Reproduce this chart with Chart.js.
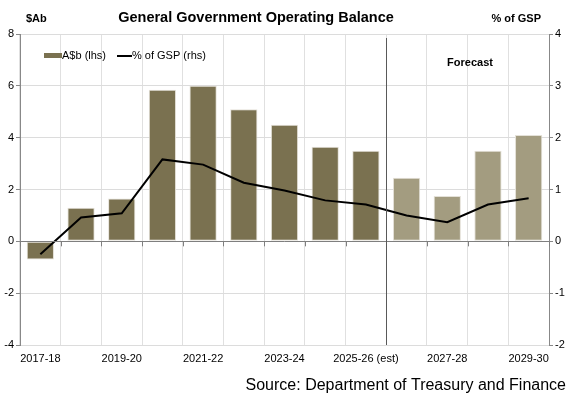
<!DOCTYPE html>
<html>
<head>
<meta charset="utf-8">
<script src="https://cdn.jsdelivr.net/npm/chart.js@4"></script>
<style>
  html, body { margin: 0; padding: 0; background: #fff; }
  #wrap { width: 569px; height: 396px; }
</style>
</head>
<body>
<div id="wrap"><canvas id="chart" width="569" height="396"></canvas></div>
<script>
const years = ['2017-18', '2018-19', '2019-20', '2020-21', '2021-22', '2022-23', '2023-24',
  '2024-25', '2025-26 (est)', '2026-27', '2027-28', '2028-29', '2029-30'];
const balanceBn = [-0.7, 1.3, 1.65, 5.85, 6.0, 5.1, 4.5, 3.65, 3.5, 2.45, 1.75, 3.5, 4.1];
const pctGsp = [-0.25, 0.46, 0.54, 1.58, 1.48, 1.13, 0.98, 0.79, 0.71, 0.5, 0.37, 0.71, 0.83];
const forecastStart = 9;
const lhsTicks = [-4, -2, 0, 2, 4, 6, 8];
const rhsTicks = [-2, -1, 0, 1, 2, 3, 4];

const FONT = 'Liberation Sans, Arial, sans-serif';
const DARK = '#7a7150';
const LIGHT = '#a39c80';

// titles, legend, forecast divider, ticks on the zero line
const extras = {
  id: 'extras',
  afterDatasetsDraw(chart) {
    const { ctx, chartArea: a, scales } = chart;
    const xs = scales.x, ys = scales.y;
    const half = (xs.getPixelForValue(1) - xs.getPixelForValue(0)) / 2;
    const zeroY = ys.getPixelForValue(0);
    ctx.save();
    // zero line
    ctx.strokeStyle = '#7f7f7f';
    ctx.lineWidth = 1;
    ctx.beginPath();
    ctx.moveTo(a.left, Math.round(zeroY) + 0.5);
    ctx.lineTo(a.right, Math.round(zeroY) + 0.5);
    ctx.stroke();
    // tick marks at category boundaries
    for (let i = 0; i <= years.length; i++) {
      const x = Math.round(xs.getPixelForValue(i) - half) + 0.5;
      ctx.beginPath();
      ctx.moveTo(x, zeroY);
      ctx.lineTo(x, zeroY + 5);
      ctx.stroke();
    }
    // forecast divider
    const dx = Math.round(xs.getPixelForValue(forecastStart) - half) + 0.5;
    ctx.strokeStyle = '#595959';
    ctx.beginPath();
    ctx.moveTo(dx, a.top + 4);
    ctx.lineTo(dx, a.bottom);
    ctx.stroke();

    ctx.fillStyle = '#000';
    ctx.textBaseline = 'middle';
    ctx.font = 'bold 11px ' + FONT;
    ctx.textAlign = 'center';
    ctx.fillText('Forecast', 470, 63);
    // legend
    ctx.textAlign = 'left';
    ctx.font = '11px ' + FONT;
    ctx.fillStyle = DARK;
    ctx.fillRect(44, 53, 18, 5);
    ctx.fillStyle = '#000';
    ctx.fillText('A$b (lhs)', 62, 56);
    ctx.fillRect(117, 55, 15, 2);
    ctx.fillText('% of GSP (rhs)', 132, 56);
    ctx.restore();
  },
  afterDraw(chart) {
    const { ctx } = chart;
    ctx.save();
    ctx.fillStyle = '#000';
    ctx.textBaseline = 'middle';
    ctx.font = 'bold 14.5px ' + FONT;
    ctx.textAlign = 'center';
    ctx.fillText('General Government Operating Balance', 256, 18);
    ctx.font = 'bold 11px ' + FONT;
    ctx.textAlign = 'left';
    ctx.fillText('$Ab', 26, 19);
    ctx.textAlign = 'right';
    ctx.fillText('% of GSP', 541, 19);
    ctx.font = '16px ' + FONT;
    ctx.fillText('Source: Department of Treasury and Finance', 566, 386);
    ctx.restore();
  }
};

new Chart(document.getElementById('chart'), {
  data: {
    labels: years,
    datasets: [
      {
        type: 'line',
        label: '% of GSP (rhs)',
        data: pctGsp,
        yAxisID: 'y1',
        borderColor: '#000',
        borderWidth: 2,
        pointRadius: 0,
        tension: 0,
        order: 0
      },
      {
        type: 'bar',
        label: 'A$b (lhs)',
        data: balanceBn,
        yAxisID: 'y',
        backgroundColor: c => c.dataIndex >= forecastStart ? LIGHT : DARK,
        borderColor: '#e4e1d8',
        borderWidth: 1,
        borderSkipped: false,
        categoryPercentage: 1,
        barPercentage: 0.67,
        order: 1
      }
    ]
  },
  options: {
    responsive: false,
    animation: false,
    layout: { padding: { top: 34, left: 0, right: 0, bottom: 0 } },
    plugins: { legend: { display: false }, tooltip: { enabled: false } },
    scales: {
      x: {
        offset: true,
        grid: { offset: true, color: '#e0e0e0', drawTicks: false },
        border: { display: false },
        ticks: {
          autoSkip: false,
          maxRotation: 0,
          padding: 7,
          color: '#000',
          font: { family: FONT, size: 11 },
          callback: (v, i) => i % 2 === 0 ? years[i] : ''
        },
        afterFit: s => { s.height = 51; }
      },
      y: {
        position: 'left',
        min: -4, max: 8,
        afterBuildTicks: s => { s.ticks = lhsTicks.map(v => ({ value: v })); },
        grid: { color: '#dcdcdc', tickColor: '#888', tickLength: 4 },
        border: { color: '#888', width: 1 },
        ticks: { color: '#000', padding: 2, font: { family: FONT, size: 11 } },
        afterFit: s => { s.width = 20; }
      },
      y1: {
        position: 'right',
        min: -2, max: 4,
        afterBuildTicks: s => { s.ticks = rhsTicks.map(v => ({ value: v })); },
        grid: { drawOnChartArea: false, tickColor: '#888', tickLength: 4 },
        border: { color: '#888', width: 1 },
        ticks: { color: '#000', padding: 2, font: { family: FONT, size: 11 } },
        afterFit: s => { s.width = 20; }
      }
    }
  },
  plugins: [extras]
});
</script>
</body>
</html>
